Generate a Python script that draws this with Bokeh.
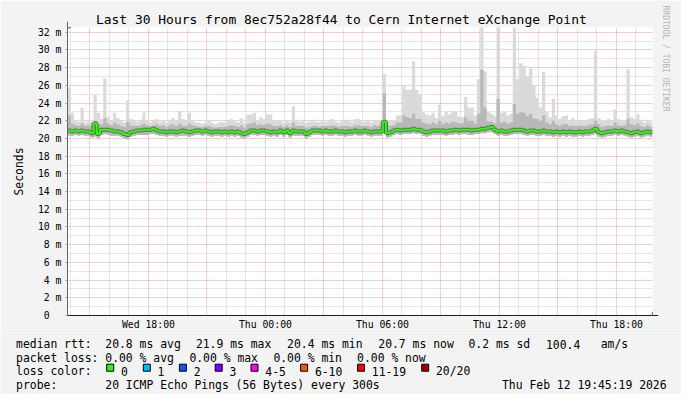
import numpy as np
from bokeh.plotting import figure
from bokeh.models import Range1d, FixedTicker, Arrow, NormalHead, Title
from bokeh.layouts import column
from bokeh.embed import file_html
from bokeh.resources import INLINE
from bokeh.core.properties import value

FONT = "DejaVu Sans Mono"
BG = "#f3f3f3"

TITLE = "Last 30 Hours from 8ec752a28f44 to Cern Internet eXchange Point"
Y_LABEL = "Seconds"
WATERMARK = "RRDTOOL / TOBI OETIKER"

# time in hours relative to Thu 00:00, one value per 10 minutes
T_START = -10.15
STEP_H = 1 / 6
Y_MAX = 32.54

x_tick_pos = [-6, 0, 6, 12, 18]
x_tick_labels = ["Wed 18:00", "Thu 00:00", "Thu 06:00", "Thu 12:00", "Thu 18:00"]
y_tick_pos = list(range(0, 33, 2))
y_tick_labels = ["0\u00a0\u00a0"] + [f"{v} m" for v in range(2, 33, 2)]

rtt_median = [
    20.9, 20.8, 20.9, 20.8, 20.9, 20.8, 20.8, 20.6, 21.7, 20.5, 21.0, 21.0,
    21.0, 20.9, 20.8, 20.8, 20.7, 20.5, 20.4, 20.7, 20.8, 20.9, 20.9, 21.0,
    21.0, 21.0, 21.1, 20.9, 20.8, 20.8, 20.7, 20.8, 20.8, 20.7, 20.8, 20.9,
    20.8, 20.7, 20.8, 20.9, 20.9, 20.8, 20.9, 20.8, 20.7, 20.8, 20.8, 20.7,
    20.8, 20.7, 20.8, 20.7, 20.8, 20.6, 20.5, 20.7, 20.9, 20.9, 20.8, 20.9,
    20.9, 20.8, 20.7, 20.8, 20.7, 20.9, 20.7, 20.9, 20.6, 20.9, 20.8, 20.8,
    20.8, 20.5, 20.7, 20.9, 20.9, 20.9, 20.8, 20.9, 20.8, 20.8, 20.9, 20.8,
    20.8, 20.7, 20.8, 20.8, 20.9, 20.8, 20.8, 20.9, 20.8, 20.7, 20.8, 20.8,
    20.8, 21.9, 20.6, 20.7, 20.9, 21.0, 20.9, 21.0, 21.0, 21.0, 21.1, 21.0,
    21.0, 20.8, 20.7, 20.8, 20.9, 20.9, 20.9, 20.9, 20.8, 20.9, 20.9, 21.0,
    20.9, 21.0, 21.0, 21.0, 20.9, 21.0, 21.0, 21.1, 21.1, 21.2, 21.3, 21.0,
    20.8, 20.9, 20.8, 20.8, 20.9, 21.0, 21.0, 21.0, 20.9, 20.8, 20.9, 20.9,
    20.8, 20.8, 20.9, 20.8, 20.8, 20.7, 20.8, 20.7, 20.8, 20.7, 20.8, 20.7,
    20.7, 20.8, 20.7, 20.8, 20.8, 20.9, 21.1, 20.7, 20.6, 20.7, 20.8, 20.8,
    20.9, 20.8, 20.9, 20.8, 20.7, 20.6, 20.7, 20.8, 20.6, 20.7, 20.8, 20.7,
]

rtt_max = [
    25.8, 22.9, 22.0, 21.9, 23.5, 21.8, 22.0, 21.9, 24.9, 22.9, 22.2, 26.8,
    22.4, 22.0, 22.9, 22.3, 22.0, 21.8, 24.3, 22.2, 22.0, 21.9, 22.0, 22.9,
    22.1, 21.8, 22.0, 22.2, 21.9, 22.0, 21.8, 22.0, 22.3, 22.0, 23.1, 22.2,
    22.0, 22.9, 22.1, 21.8, 21.8, 21.7, 21.8, 22.0, 21.8, 21.6, 21.8, 21.9,
    21.8, 22.0, 22.2, 22.0, 21.8, 22.3, 21.8, 22.7, 22.7, 22.9, 22.1, 22.4,
    22.2, 22.7, 22.7, 22.0, 22.0, 22.0, 21.8, 22.1, 21.9, 23.6, 22.0, 21.9,
    22.0, 21.8, 21.9, 22.0, 21.9, 21.8, 22.0, 21.9, 22.0, 22.2, 21.9, 21.8,
    22.0, 22.0, 22.0, 21.9, 22.2, 22.2, 22.0, 21.9, 22.0, 21.8, 22.1, 22.0,
    22.1, 27.3, 22.1, 22.0, 22.0, 22.6, 22.6, 26.0, 25.5, 25.5, 28.7, 25.5,
    25.0, 23.0, 22.7, 22.6, 22.9, 22.3, 23.8, 22.5, 23.0, 22.7, 23.1, 23.0,
    22.5, 22.4, 24.7, 23.5, 23.5, 22.6, 26.7, 32.8, 27.6, 23.0, 22.8, 22.5,
    32.8, 22.9, 23.0, 22.6, 22.8, 32.8, 26.7, 28.5, 28.2, 27.0, 27.9, 25.9,
    24.6, 23.5, 27.5, 23.0, 22.4, 24.5, 22.6, 22.2, 22.5, 22.6, 22.0, 22.3,
    22.0, 22.1, 22.0, 22.0, 22.2, 22.3, 29.9, 22.3, 22.0, 22.1, 22.2, 22.0,
    23.3, 22.2, 22.0, 22.1, 27.8, 22.4, 22.2, 22.7, 22.0, 21.8, 22.1, 21.9,
]

rtt_p90 = [
    22.6, 21.7, 21.5, 21.4, 21.7, 21.4, 21.5, 21.4, 22.0, 21.6, 21.6, 22.3,
    21.7, 21.5, 21.8, 21.6, 21.4, 21.3, 21.9, 21.5, 21.4, 21.4, 21.5, 21.7,
    21.5, 21.4, 21.5, 21.6, 21.4, 21.5, 21.3, 21.5, 21.6, 21.4, 21.7, 21.5,
    21.4, 21.7, 21.5, 21.4, 21.3, 21.3, 21.4, 21.4, 21.3, 21.2, 21.3, 21.3,
    21.3, 21.4, 21.5, 21.4, 21.3, 21.5, 21.2, 21.6, 21.7, 21.8, 21.5, 21.6,
    21.5, 21.7, 21.6, 21.4, 21.4, 21.5, 21.3, 21.5, 21.3, 21.8, 21.4, 21.4,
    21.4, 21.2, 21.3, 21.4, 21.4, 21.3, 21.4, 21.4, 21.4, 21.5, 21.4, 21.3,
    21.4, 21.4, 21.4, 21.3, 21.5, 21.5, 21.4, 21.4, 21.4, 21.3, 21.5, 21.4,
    21.5, 25.1, 21.5, 21.4, 21.5, 21.8, 21.8, 22.6, 22.4, 22.3, 22.8, 22.2,
    22.2, 21.8, 21.7, 21.6, 21.8, 21.6, 22.0, 21.6, 21.8, 21.7, 21.9, 21.8,
    21.7, 21.7, 22.4, 22.0, 22.0, 21.7, 22.8, 27.8, 23.5, 21.9, 21.9, 21.7,
    24.5, 21.8, 21.9, 21.7, 21.8, 23.9, 22.8, 23.0, 22.9, 22.5, 22.8, 22.3,
    22.2, 22.0, 22.6, 21.8, 21.6, 22.0, 21.6, 21.4, 21.6, 21.6, 21.4, 21.5,
    21.4, 21.5, 21.4, 21.4, 21.5, 21.6, 22.0, 21.6, 21.3, 21.4, 21.5, 21.4,
    21.8, 21.5, 21.4, 21.5, 22.2, 21.6, 21.5, 21.7, 21.4, 21.3, 21.5, 21.3,
]

rtt_min = [
    20.3, 20.3, 20.4, 20.3, 20.4, 20.3, 20.3, 20.1, 20.2, 20.0, 20.4, 20.5,
    20.4, 20.3, 20.3, 20.3, 20.2, 20.0, 19.9, 20.2, 20.3, 20.4, 20.4, 20.4,
    20.4, 20.5, 20.5, 20.4, 20.3, 20.3, 20.2, 20.3, 20.3, 20.2, 20.3, 20.3,
    20.3, 20.2, 20.3, 20.4, 20.4, 20.3, 20.4, 20.3, 20.2, 20.3, 20.3, 20.2,
    20.3, 20.2, 20.3, 20.2, 20.3, 20.1, 20.0, 20.2, 20.4, 20.4, 20.3, 20.4,
    20.4, 20.3, 20.2, 20.3, 20.2, 20.4, 20.2, 20.4, 20.1, 20.3, 20.3, 20.3,
    20.3, 20.0, 20.2, 20.4, 20.4, 20.4, 20.3, 20.4, 20.3, 20.3, 20.4, 20.3,
    20.3, 20.2, 20.3, 20.3, 20.4, 20.3, 20.3, 20.4, 20.3, 20.2, 20.3, 20.3,
    20.3, 20.6, 20.1, 20.2, 20.4, 20.5, 20.4, 20.5, 20.5, 20.5, 20.6, 20.5,
    20.5, 20.3, 20.2, 20.3, 20.4, 20.4, 20.4, 20.4, 20.3, 20.4, 20.4, 20.5,
    20.4, 20.5, 20.5, 20.4, 20.4, 20.5, 20.5, 20.6, 20.6, 20.7, 20.7, 20.5,
    20.3, 20.4, 20.3, 20.3, 20.4, 20.5, 20.5, 20.5, 20.4, 20.3, 20.4, 20.4,
    20.3, 20.3, 20.4, 20.3, 20.3, 20.2, 20.3, 20.2, 20.3, 20.2, 20.3, 20.2,
    20.2, 20.3, 20.2, 20.3, 20.3, 20.4, 20.5, 20.2, 20.1, 20.2, 20.3, 20.3,
    20.4, 20.3, 20.4, 20.3, 20.2, 20.1, 20.2, 20.3, 20.1, 20.2, 20.3, 20.2,
]

loss_labels = ["0", "1", "2", "3", "4-5", "6-10", "11-19", "20/20"]
loss_colors = ["#26ff00", "#00b8ff", "#0059ff", "#7e00ff", "#ff00ff", "#ff5500", "#ff0000", "#a10000"]

row_heads = ["median rtt:", "packet loss:", "loss color:", "probe:"]
stats_rtt = ["20.8 ms avg", "21.9 ms max", "20.4 ms min", "20.7 ms now", "0.2 ms sd", "100.4", "am/s"]
stats_loss = ["0.00 % avg", "0.00 % max", "0.00 % min", "0.00 % now"]
probe_text = "20 ICMP Echo Pings (56 Bytes) every 300s"
stamp_text = "Thu Feb 12 19:45:19 2026"

# ---------------------------------------------------------------- layout
n = len(rtt_median)
t_left = T_START + np.arange(n) * STEP_H
t_right = t_left + STEP_H
X_END = T_START + n * STEP_H

W = 681
P_H, Q_H = 332, 62
FR_L, FR_T, FR_W, FR_H = 65, 27, 587, 288
FR_R = W - FR_L - FR_W

p = figure(width=W, height=P_H, x_range=Range1d(T_START, X_END), y_range=Range1d(0, Y_MAX),
           output_backend="svg", toolbar_location=None,
           min_border_left=FR_L, min_border_right=FR_R,
           min_border_top=FR_T, min_border_bottom=P_H - FR_T - FR_H)
p.frame_align = False
p.background_fill_color = "#ffffff"
p.border_fill_color = BG
p.outline_line_color = None

# title, y label, watermark (side panels)
p.title.text = TITLE
p.title.align = "left"
p.title.offset = 28.5
p.title.standoff = 1
p.title.text_font = FONT
p.title.text_font_size = "12.95px"
p.title.text_font_style = "normal"
p.title.text_color = "#000000"

p.add_layout(Title(text=Y_LABEL, align="center", standoff=18, text_font=FONT,
                   text_font_size="11.4px", text_font_style="normal", text_color="#000000"), "left")
p.add_layout(Title(text=WATERMARK, align="left", offset=-22, standoff=17, text_font=FONT,
                   text_font_size="8px", text_font_style="normal", text_color="#b4b4b4"), "right")

# grids
hour_major = [h for h in range(-9, 20, 3)]
hour_minor = [h for h in range(-10, 20) if h % 3 != 0]
p.xgrid.ticker = FixedTicker(ticks=hour_major, minor_ticks=hour_minor)
p.ygrid.ticker = FixedTicker(ticks=list(range(2, 33, 2)), minor_ticks=list(range(1, 33, 2)))
for g in (p.xgrid, p.ygrid):
    g.grid_line_color = "#f29a9a"
    g.grid_line_dash = "1 1"
    g.grid_line_width = 1
    g.minor_grid_line_color = "#cccccc"
    g.minor_grid_line_dash = "1 1"
    g.minor_grid_line_width = 1

# axes
p.xaxis.ticker = FixedTicker(ticks=x_tick_pos)
p.xaxis.major_label_overrides = dict(zip(x_tick_pos, x_tick_labels))
p.yaxis.ticker = FixedTicker(ticks=y_tick_pos)
p.yaxis.major_label_overrides = dict(zip(y_tick_pos, y_tick_labels))
for ax in (p.xaxis, p.yaxis):
    ax.major_label_text_font = FONT
    ax.major_label_text_font_size = "9.8px"
    ax.major_label_text_color = "#000000"
    ax.minor_tick_line_color = None
p.xaxis.axis_line_color = "#202020"
p.xaxis.major_tick_line_color = None
p.xaxis.major_tick_out = 0
p.xaxis.major_tick_in = 0
p.xaxis.major_label_standoff = 3
p.yaxis.axis_line_color = "#666666"
p.yaxis.major_tick_line_color = "#999999"
p.yaxis.major_tick_out = 2
p.yaxis.major_tick_in = 0
p.yaxis.major_label_standoff = 4

# smoke
xs = np.column_stack([t_left, t_right]).ravel()
p.varea(x=xs, y1=np.repeat(rtt_min, 2), y2=np.repeat(rtt_max, 2), fill_color="#dadada")
p.varea(x=xs, y1=np.repeat(rtt_min, 2), y2=np.repeat(rtt_p90, 2), fill_color="#b8b8b8")

# median
mx = np.append(t_left, X_END)
my = np.append(rtt_median, rtt_median[-1])
p.step(mx, my, mode="after", line_width=4, line_color="#666666")
p.step(mx, my, mode="after", line_width=2, line_color="#26ff00")

# axis arrows
p.add_layout(Arrow(x_start=T_START, y_start=Y_MAX, x_end=T_START, y_end=Y_MAX + 0.65,
                   line_color="#666666", line_width=1,
                   end=NormalHead(size=6, fill_color="#a00000", line_color="#a00000")))
p.add_layout(Arrow(x_start=X_END, y_start=0, x_end=X_END + 0.3, y_end=0,
                   line_color="#202020", line_width=1,
                   end=NormalHead(size=6, fill_color="#a00000", line_color="#a00000")))

# ---------------------------------------------------------------- legend block
# full-width strip below the chart; its units are the picture's pixels
q = figure(width=W, height=Q_H, x_range=Range1d(0, W), y_range=Range1d(P_H + Q_H, P_H),
           output_backend="svg", toolbar_location=None, x_axis_type=None, y_axis_type=None,
           min_border_left=0, min_border_right=0, min_border_top=0, min_border_bottom=0)
q.frame_align = False
q.background_fill_color = BG
q.border_fill_color = BG
q.outline_line_color = None
q.grid.visible = False

LEFT_X = 15.6
rows_y = [343.7, 357.2, 370.7, 384.4]
q.text(x=[LEFT_X] * 4, y=rows_y, text=row_heads, text_font=value(FONT), text_font_size="11.4px",
       text_align="left", text_baseline="alphabetic", text_color="#000000")

box_left = [105.8, 142.4, 178.5, 214.3, 250.1, 299.7, 356.6, 420.8]
items_t = stats_rtt + stats_loss + loss_labels + [probe_text, stamp_text]
items_x = ([104.8, 195.4, 286.6, 377.8, 468.0, 545.5, 600.2]
           + [104.8, 188.9, 272.9, 356.6]
           + [b + 14.7 for b in box_left]
           + [104.8, 501.5])
items_y = ([rows_y[0]] * len(stats_rtt) + [rows_y[1]] * len(stats_loss)
           + [rows_y[2]] * len(loss_labels) + [rows_y[3]] * 2)
q.text(x=items_x, y=items_y, text=items_t, text_font=value(FONT), text_font_size="11.4px",
       text_align="left", text_baseline="alphabetic", text_color="#000000")

q.rect(x=[b + 3.9 for b in box_left], y=[367.2] * len(box_left), width=7, height=7,
       fill_color=loss_colors, line_color="#000000", line_width=1)

layout = column(p, q, spacing=0)
open("out.html", "w").write(file_html(layout, INLINE))
